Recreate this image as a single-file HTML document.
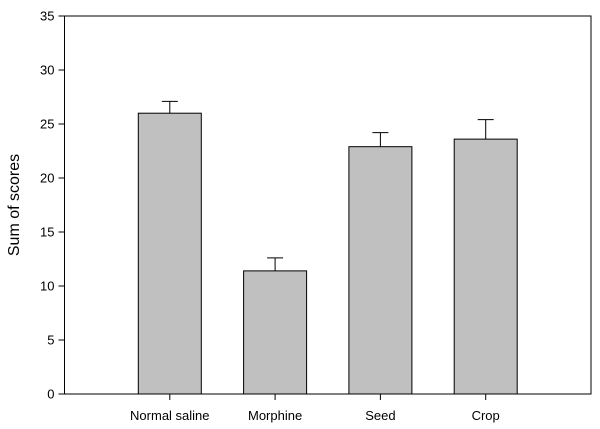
<!DOCTYPE html>
<html><head><meta charset="utf-8"><style>
body{margin:0;background:#fff;}
svg{display:block;font-family:"Liberation Sans",Arial,sans-serif;}
</style></head><body>
<svg width="600" height="429">
<g id="g"></g>
</svg>
<script>
const categories=["Normal saline","Morphine","Seed","Crop"];
const values=[26.0,11.4,22.9,23.6];
const errors=[1.1,1.2,1.3,1.8];
const yTicks=[0,5,10,15,20,25,30,35];
const L=64.5,R=591,T=16,B=394,yMax=35;
const y=v=>B-(v/yMax)*(B-T);
const slot=(R-L)/5.0;
const cx=i=>L+slot*(i+1);
const bw=63;
const NS="http://www.w3.org/2000/svg";
const g=document.getElementById('g');
function mk(t,a){const e=document.createElementNS(NS,t);for(const k in a)e.setAttribute(k,a[k]);g.appendChild(e);return e;}
let e=mk('rect',{x:L,y:T,width:R-L,height:B-T,fill:'none',stroke:'#000','stroke-width':1});


yTicks.forEach(v=>{
 let t=mk('line',{x1:L-6,x2:L,y1:y(v),y2:y(v),stroke:'#000'});
 
 
 let l=mk('text',{x:L-10,y:y(v)+4.5,'text-anchor':'end','font-size':13});
 l.textContent=v;
 
 
});
categories.forEach((c,i)=>{
 const x=cx(i);
 let er=mk('path',{d:`M${x} ${y(values[i])} V${y(values[i]+errors[i])} M${x-8} ${y(values[i]+errors[i])} H${x+8}`,stroke:'#000',fill:'none'});
 
 
 let b=mk('rect',{x:x-bw/2,y:y(values[i]),width:bw,height:B-y(values[i]),fill:'#c0c0c0',stroke:'#000'});
 
 
 let t=mk('line',{x1:x,x2:x,y1:B,y2:B+6,stroke:'#000'});
 
 
 let l=mk('text',{x:x,y:B+26,'text-anchor':'middle','font-size':13});
 l.textContent=c;
 
 
});
let yt=mk('text',{x:0,y:0,'text-anchor':'middle','font-size':16,transform:`translate(19,${(T+B)/2}) rotate(-90)`});
yt.textContent='Sum of scores';


</script>
</body></html>
